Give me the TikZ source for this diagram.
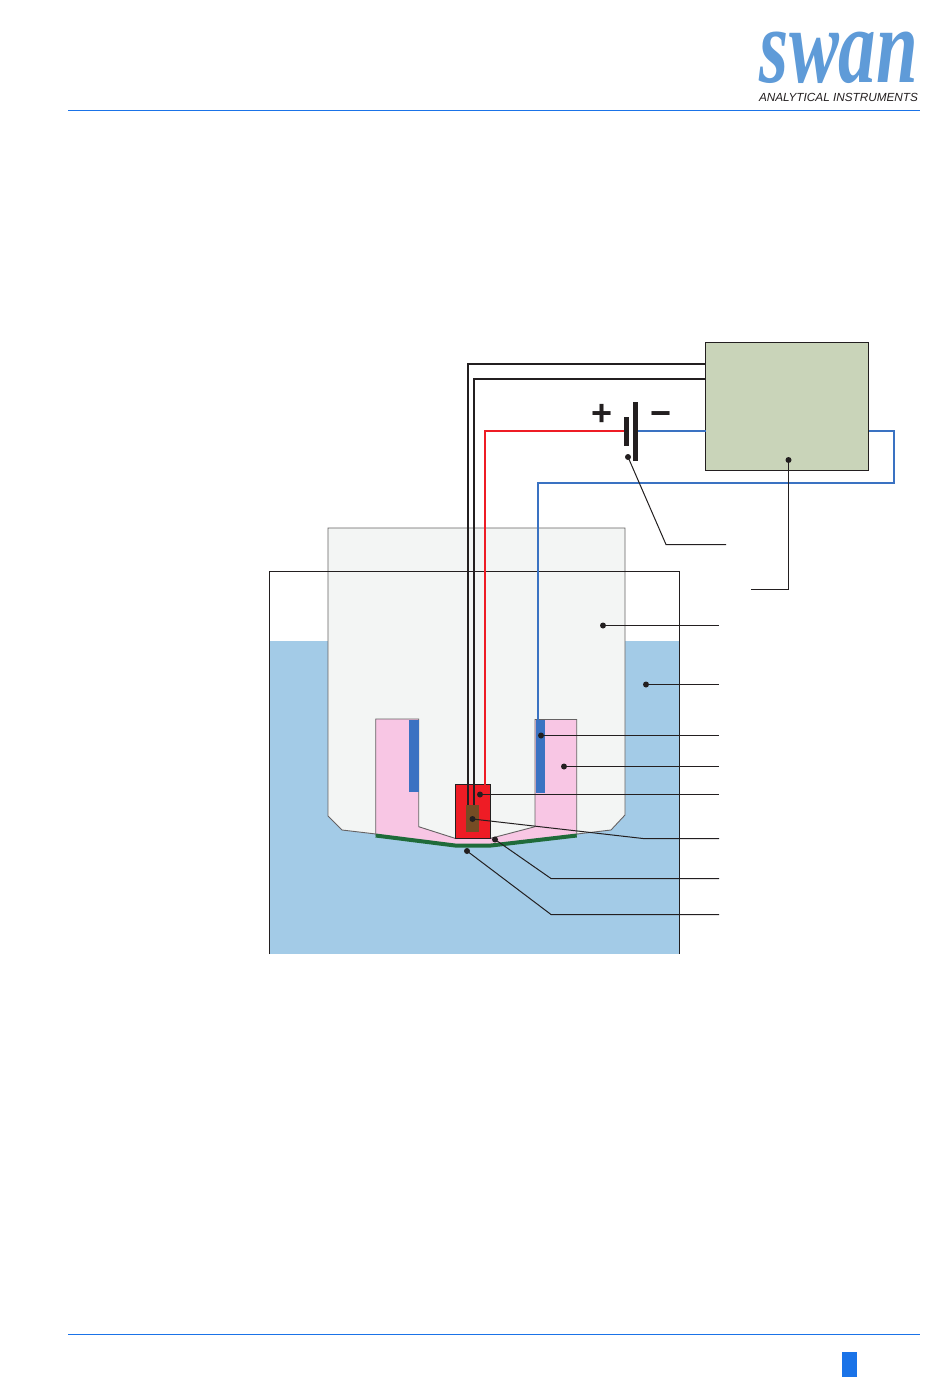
\documentclass[tikz,border=0pt]{standalone}
\usepackage{fontspec}
\setmainfont{Liberation Sans}
\newfontfamily\logofont{Liberation Serif}
\definecolor{rulecol}{HTML}{1A73E8}
\definecolor{logocol}{HTML}{5F9BD8}
\definecolor{inkcol}{HTML}{231F20}
\definecolor{watercol}{HTML}{A3CBE7}
\definecolor{probecol}{HTML}{F3F5F4}
\definecolor{pinkcol}{HTML}{F8C6E4}
\definecolor{bluecol}{HTML}{3A72C2}
\definecolor{redcol}{HTML}{EE1C25}
\definecolor{browncol}{HTML}{754C24}
\definecolor{greencol}{HTML}{1F6B3A}
\definecolor{boxcol}{HTML}{C9D4B9}
\tikzset{
    headrule/.style={rulecol, line width=1.1pt},
    wire/.style={line width=2pt},
    leader/.style={inkcol, line width=1pt},
    dot/.style={circle, fill=inkcol, inner sep=0pt, minimum size=6pt},
    thinline/.style={draw=inkcol!70, line width=0.9pt}
}
\begin{document}
\begin{tikzpicture}[x=1pt,y=-1pt]
    \useasboundingbox (0,0) rectangle (950,1381);
    \fill[white] (0,0) rectangle (950,1381);

    % page frame
    \draw[headrule] (68,110.5)--(920,110.5);
    \draw[headrule] (68,1334.5)--(920,1334.5);
    \fill[rulecol] (842,1352) rectangle (857,1377);
    \node[inner sep=0pt, text=logocol] (Logo) at (839,58) {\resizebox{158pt}{50.5pt}{\logofont\bfseries\itshape swan}};
    \node[inner sep=0pt, text=inkcol] (Tag) at (838.5,97) {\resizebox{159pt}{!}{\itshape ANALYTICAL INSTRUMENTS}};

    % tank and probe body
    \fill[watercol] (269.5,641) rectangle (679.5,954);
    \filldraw[fill=probecol, thinline] (328,528)--(625,528)--(625,815)--(611,830)--(577,834)
        --(491,846)--(455,846)--(376,834)--(342,830)--(328,816)--cycle;
    \draw[inkcol, line width=0.9pt] (269.5,954)--(269.5,571.5)--(679.5,571.5)--(679.5,954);

    % electrolyte, membrane and electrodes
    \filldraw[fill=pinkcol, thinline] (375.7,719)--(418.7,719)--(418.7,826.7)--(455,838.3)--(490.7,838.3)
        --(535,826.7)--(535,719.5)--(576.7,719.5)--(576.7,835)--(491,846)--(455,846)--(375.7,835)--cycle;
    \draw[greencol, line width=4pt] (375.7,835.5)--(455,845.5)--(491,845.5)--(576.7,835.5);
    \fill[bluecol] (409,719.5) rectangle (418.7,792);
    \fill[bluecol] (535.5,720) rectangle (545.3,793);
    \filldraw[fill=redcol, draw=inkcol, line width=1pt] (455.5,784.5) rectangle (490.5,838);
    \fill[browncol] (466,805) rectangle (479.3,831.7);

    % measuring device and battery
    \node[draw=inkcol, fill=boxcol, line width=1pt, minimum width=163pt, minimum height=128pt, inner sep=0pt] (Box) at (787,406.5) {};
    \fill[inkcol] (624,417) rectangle (629,446);
    \fill[inkcol] (633,402) rectangle (638,461);
    \node[inner sep=0pt, font=\bfseries\fontsize{36}{36}\selectfont, text=inkcol] (Plus) at (602.5,415) {+};
    \node[inner sep=0pt, font=\bfseries\fontsize{36}{36}\selectfont, text=inkcol] (Minus) at (661,419) {\symbol{"2212}};

    % wires
    \coordinate (BoxA) at (705.5,364);
    \coordinate (BoxB) at (705.5,379);
    \coordinate (BoxC) at (705.5,431);
    \coordinate (BoxD) at (868.5,431);
    \coordinate (Bat1) at (624,431);
    \coordinate (Bat2) at (638,431);
    \draw[inkcol, wire] (BoxA)-|(468,805);
    \draw[inkcol, wire] (BoxB)-|(474,805);
    \draw[redcol, wire] (Bat1)-|(485,784.5);
    \draw[bluecol, wire] (Bat2)--(BoxC);
    \draw[bluecol, wire] (BoxD)--(894,431)--(894,483)-|(538,720);

    % leaders
    \node[dot] (D1) at (628,457) {};
    \node[dot] (D2) at (788.5,460) {};
    \node[dot] (D3) at (603,625.5) {};
    \node[dot] (D4) at (646,684.5) {};
    \node[dot] (D5) at (541,735.5) {};
    \node[dot] (D6) at (564,766.5) {};
    \node[dot] (D7) at (480,794.5) {};
    \node[dot] (D8) at (472.5,819) {};
    \node[dot] (D9) at (495,839.5) {};
    \node[dot] (D10) at (467,851) {};
    \draw[leader] (D1.center)--(666,544.5)--(726,544.5);
    \draw[leader] (D2.center)--(788.5,589.5)--(751,589.5);
    \draw[leader] (D3.center)--(719,625.5);
    \draw[leader] (D4.center)--(719,684.5);
    \draw[leader] (D5.center)--(719,735.5);
    \draw[leader] (D6.center)--(719,766.5);
    \draw[leader] (D7.center)--(719,794.5);
    \draw[leader] (D8.center)--(643,838.5)--(719,838.5);
    \draw[leader] (D9.center)--(551,878.5)--(719,878.5);
    \draw[leader] (D10.center)--(551,914.5)--(719,914.5);
\end{tikzpicture}
\end{document}
